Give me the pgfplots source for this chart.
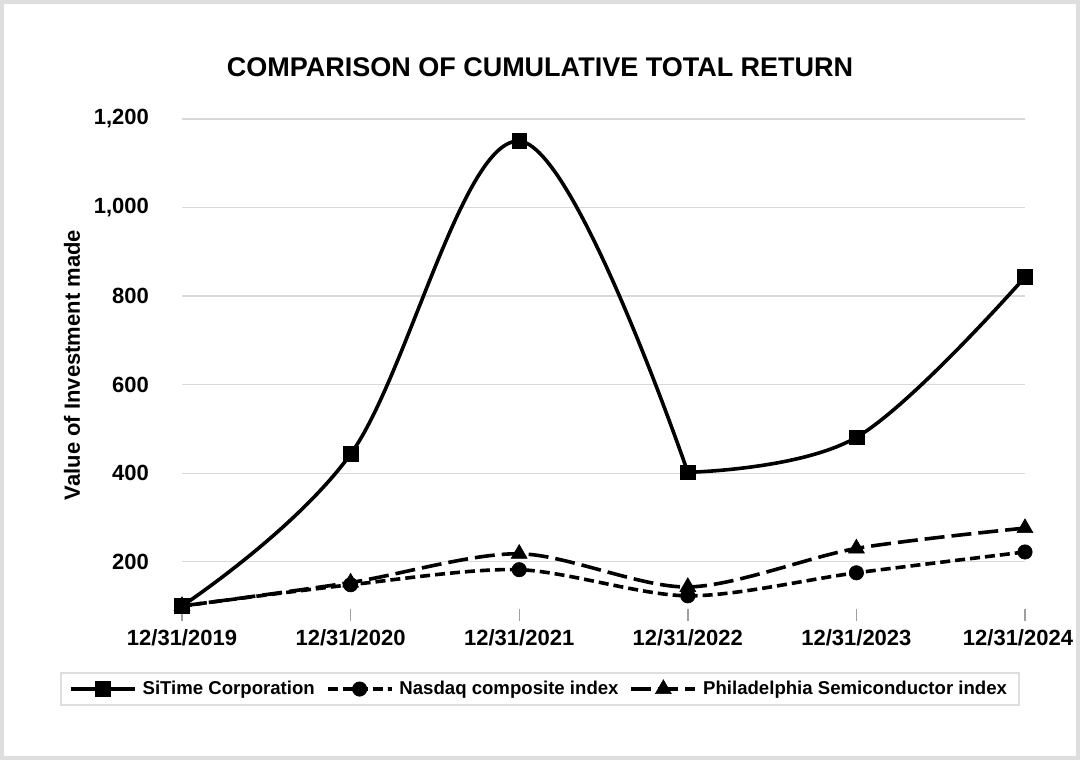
\documentclass[border=0pt]{standalone}
\usepackage{fontspec}
\setmainfont{Liberation Sans}
\usepackage{pgfplots}
\pgfplotsset{compat=1.18}
\definecolor{gridgray}{RGB}{217,217,217}
\definecolor{framegray}{RGB}{222,222,222}
\definecolor{tickgray}{RGB}{160,160,160}
\begin{document}
\begin{tikzpicture}
\draw[framegray, line width=2pt] (1pt,1pt) rectangle (539pt,379pt);
\node[font=\bfseries\fontsize{13.5}{16}\selectfont] at (270pt,346.5pt) {COMPARISON OF CUMULATIVE TOTAL RETURN};
\node[font=\bfseries\fontsize{11}{13}\selectfont, rotate=90] at (36pt,197.5pt) {Value of Investment made};
\begin{axis}[
  at={(91pt,77pt)}, anchor=south west,
  scale only axis, width=421.5pt, height=243.5pt,
  xmin=0, xmax=5, ymin=100, ymax=1200,
  xtick={0,1,2,3,4,5},
  xticklabels={12/31/2019,12/31/2020,12/31/2021,12/31/2022,12/31/2023,\makebox[0pt]{\hspace*{-7pt}12/31/2024}},
  ytick={200,400,600,800,1000,1200},
  /pgf/number format/.cd, 1000 sep={,}, assume math mode=true, /pgfplots/.cd,
  ymajorgrids, grid style={gridgray, line width=0.6pt},
  axis line style={draw=none},
  xtick pos=bottom, tick align=outside,
  major tick length=6pt,
  xtick style={tickgray, line width=0.7pt, yshift=-1.5pt},
  ytick style={draw=none},
  ticklabel style={font=\bfseries\fontsize{11}{13}\selectfont},
  xticklabel style={yshift=-2pt},
  yticklabel style={xshift=-7pt},
  clip=false,
  legend columns=3,
  legend style={at={(0.4247,-0.1705)}, anchor=center, draw=framegray, line width=1.2pt,
    font=\bfseries\fontsize{9.3}{11}\selectfont, inner xsep=4pt, inner ysep=2pt,
    /tikz/every odd column/.append style={column sep=1pt},
    /tikz/every even column/.append style={column sep=3.5pt}},
  legend cell align=left,
  legend image code/.code={\draw[mark repeat=2,mark phase=2,#1] plot coordinates {(0pt,0pt) (16pt,0pt) (32pt,0pt)};},
]
\addplot[black, line width=1.8pt, smooth, tension=0.6, mark=square*, mark size=3.7pt, mark options={solid, line width=0.3pt}]
  coordinates {(0,100) (1,443) (2,1150) (3,402)};
\addlegendentry{SiTime Corporation}
\addplot[black, line width=1.8pt, smooth, tension=0.6, mark=square*, mark size=3.7pt, mark options={solid, line width=0.3pt}, forget plot]
  coordinates {(3,402) (4,481) (5,843)};
\addplot[black, line width=1.8pt, smooth, tension=0.5, dash pattern=on 5pt off 2.5pt, mark=*, mark size=3.6pt, mark options={solid, line width=0.3pt}]
  coordinates {(0,100) (1,148) (2,182) (3,123) (4,175) (5,222)};
\addlegendentry{Nasdaq composite index}
\addplot[black, line width=1.8pt, smooth, tension=0.5, dash pattern=on 10pt off 3.5pt, mark=triangle*, mark size=4.6pt, mark options={solid, line width=0.3pt}]
  coordinates {(0,100) (1,153) (2,218) (3,143) (4,230) (5,276)};
\addlegendentry{Philadelphia Semiconductor index}
\end{axis}
\pgfresetboundingbox
\path (0pt,0pt) rectangle (540pt,380pt);
\end{tikzpicture}
\end{document}
